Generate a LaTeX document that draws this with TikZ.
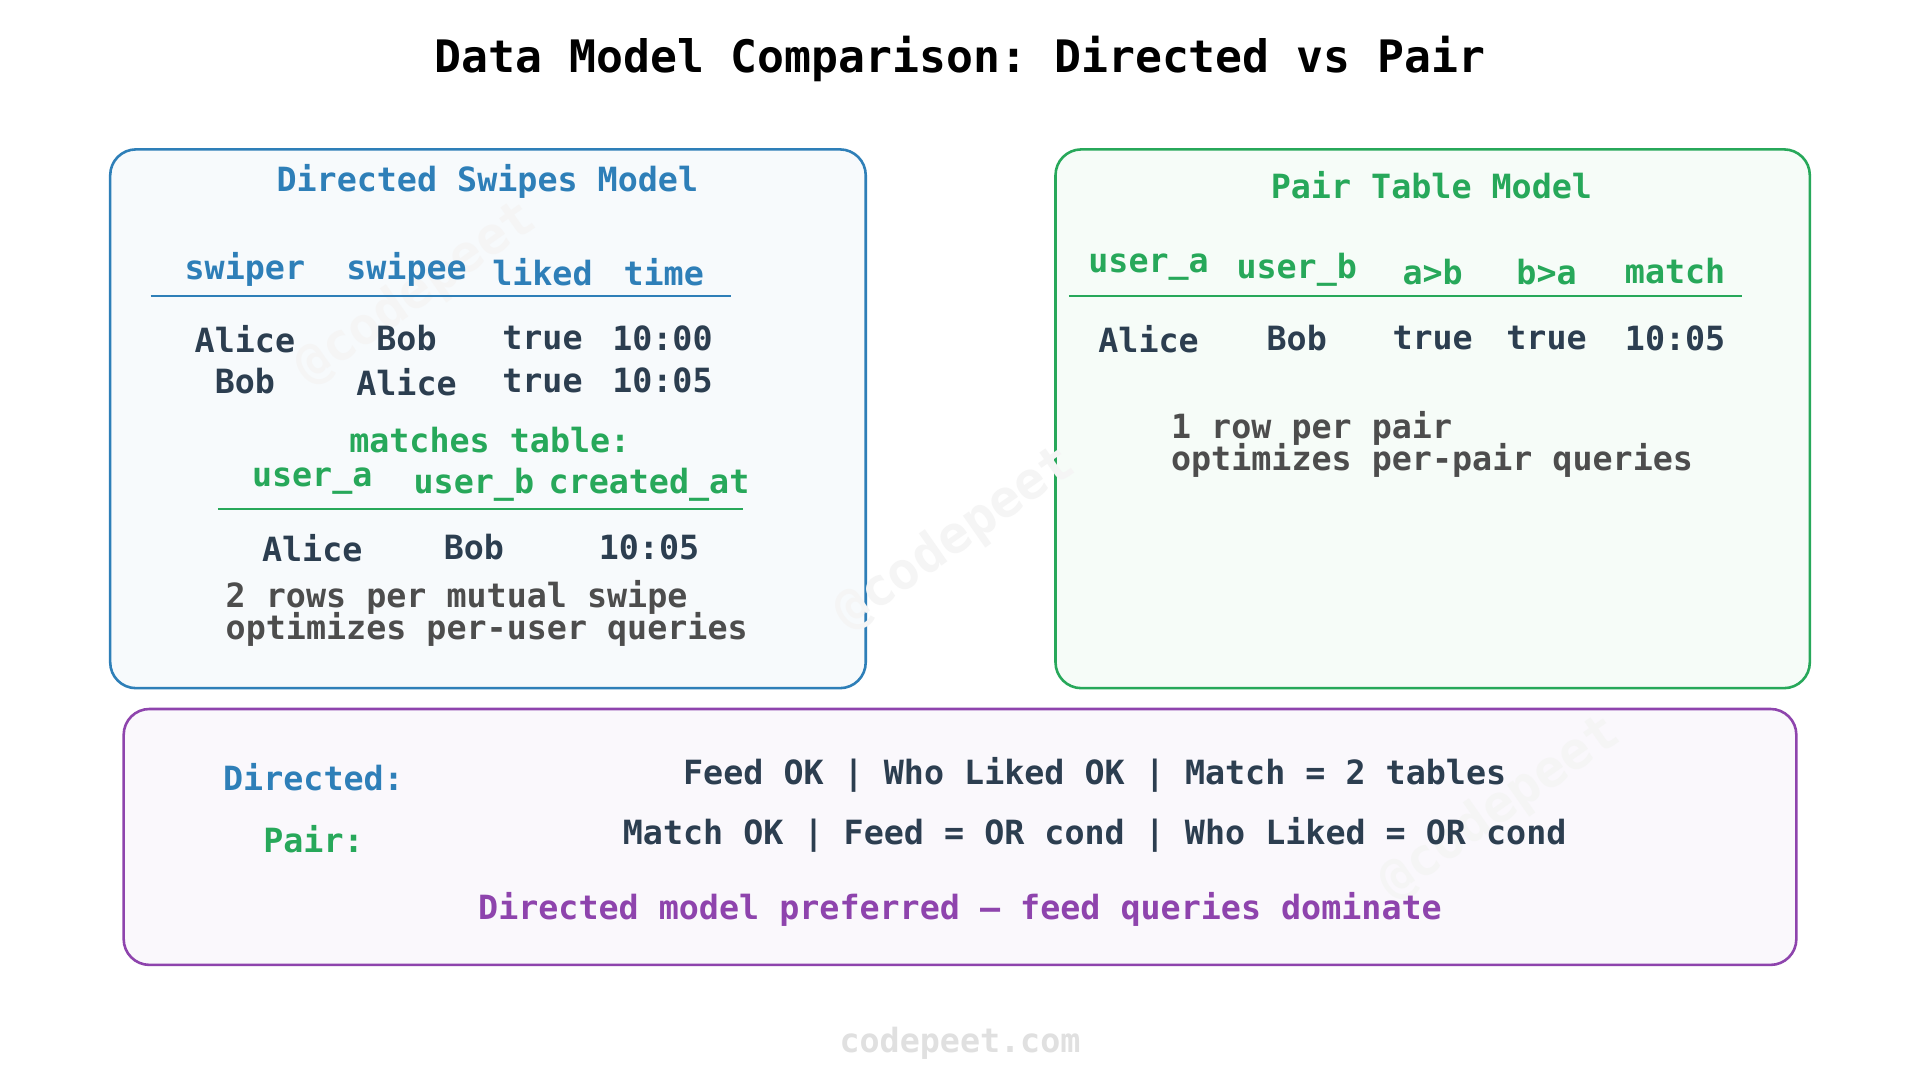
\documentclass[tikz,border=0pt]{standalone}
\usepackage{fontspec}
\setmonofont{DejaVu Sans Mono}
\definecolor{blueT}{HTML}{2E7FB8}
\definecolor{greenT}{HTML}{27A85A}
\definecolor{purpleT}{HTML}{8E44AD}
\definecolor{darkT}{HTML}{2C3E50}
\definecolor{grayT}{HTML}{4D4D4D}
\tikzset{
  txt/.style={font=\ttfamily\bfseries\fontsize{15.5}{16}\selectfont, inner sep=0pt, text=darkT},
  head/.style={txt, text=blueT},
  ghead/.style={txt, text=greenT},
  note/.style={txt, text=grayT, align=left, anchor=west},
  panel/.style={rounded corners=12pt, line width=1.2pt},
  wmark/.style={txt, text=black!4, rotate=35, font=\ttfamily\bfseries\fontsize{24}{24}\selectfont}
}
\begin{document}
\begin{tikzpicture}[x=0.02cm, y=-0.02cm]
\useasboundingbox[fill=white] (0,0) rectangle (1568,882);
% panels
\draw[panel, blueT, fill=blueT!4] (90,122) rectangle (707,562);
\draw[panel, greenT, fill=greenT!4] (862,122) rectangle (1478,562);
\draw[panel, purpleT, fill=purpleT!4] (101,579) rectangle (1467,788);
% watermarks
\node[wmark] (w1) at (340,240) {@codepeet};
\node[wmark] (w2) at (780,440) {@codepeet};
\node[wmark] (w3) at (1225,660) {@codepeet};
% title
\node[txt, text=black, font=\ttfamily\bfseries\fontsize{20.8}{22}\selectfont] (title) at (784,48) {Data Model Comparison: Directed vs Pair};
% directed swipes
\node[head] (dtitle) at (398,148) {Directed Swipes Model};
\node[head] (h1) at (200,220) {swiper};
\node[head] (h2) at (332,220) {swipee};
\node[head] (h3) at (443,222) {liked};
\node[head] (h4) at (542,222) {time};
\draw[blueT, line width=1pt] (123,242) -- (597,242);
\node[txt] (r11) at (200,277) {Alice};
\node[txt] (r12) at (332,276) {Bob};
\node[txt] (r13) at (443,276) {true};
\node[txt] (r14) at (541,276) {10:00};
\node[txt] (r21) at (200,311) {Bob};
\node[txt] (r22) at (332,312) {Alice};
\node[txt] (r23) at (443,311) {true};
\node[txt] (r24) at (541,311) {10:05};
\node[ghead] (mt) at (400,359) {matches table:};
\node[ghead] (m1) at (255,393) {user\_a};
\node[ghead] (m2) at (387,396) {user\_b};
\node[ghead] (m3) at (530,396) {created\_at};
\draw[greenT, line width=1pt] (178,416) -- (607,416);
\node[txt] (m11) at (255,448) {Alice};
\node[txt] (m12) at (387,447) {Bob};
\node[txt] (m13) at (530,447) {10:05};
\node[note] (dnote) at (184,501) {2 rows per mutual swipe\\[-1.5pt]optimizes per-user queries};
% pair table
\node[ghead] (ptitle) at (1169,151) {Pair Table Model};
\node[ghead] (p1) at (938,218) {user\_a};
\node[ghead] (p2) at (1059,220) {user\_b};
\node[ghead] (p3) at (1170,222) {a>b};
\node[ghead] (p4) at (1263,222) {b>a};
\node[ghead] (p5) at (1368,221) {match};
\draw[greenT, line width=1pt] (873,242) -- (1423,242);
\node[txt] (q1) at (938,277) {Alice};
\node[txt] (q2) at (1059,276) {Bob};
\node[txt] (q3) at (1170,276) {true};
\node[txt] (q4) at (1263,276) {true};
\node[txt] (q5) at (1368,276) {10:05};
\node[note] (pnote) at (956,363) {1 row per pair\\[-1.5pt]optimizes per-pair queries};
% summary
\node[head] (sd) at (256,635) {Directed:};
\node[txt] (sdt) at (894,633) {Feed OK | Who Liked OK | Match = 2 tables};
\node[ghead] (sp) at (256,685) {Pair:};
\node[txt] (spt) at (894,682) {Match OK | Feed = OR cond | Who Liked = OR cond};
\node[txt, text=purpleT] (concl) at (784,743) {Directed model preferred — feed queries dominate};
% footer
\node[txt, text=black!12] (foot) at (784,852) {codepeet.com};
\end{tikzpicture}
\end{document}
